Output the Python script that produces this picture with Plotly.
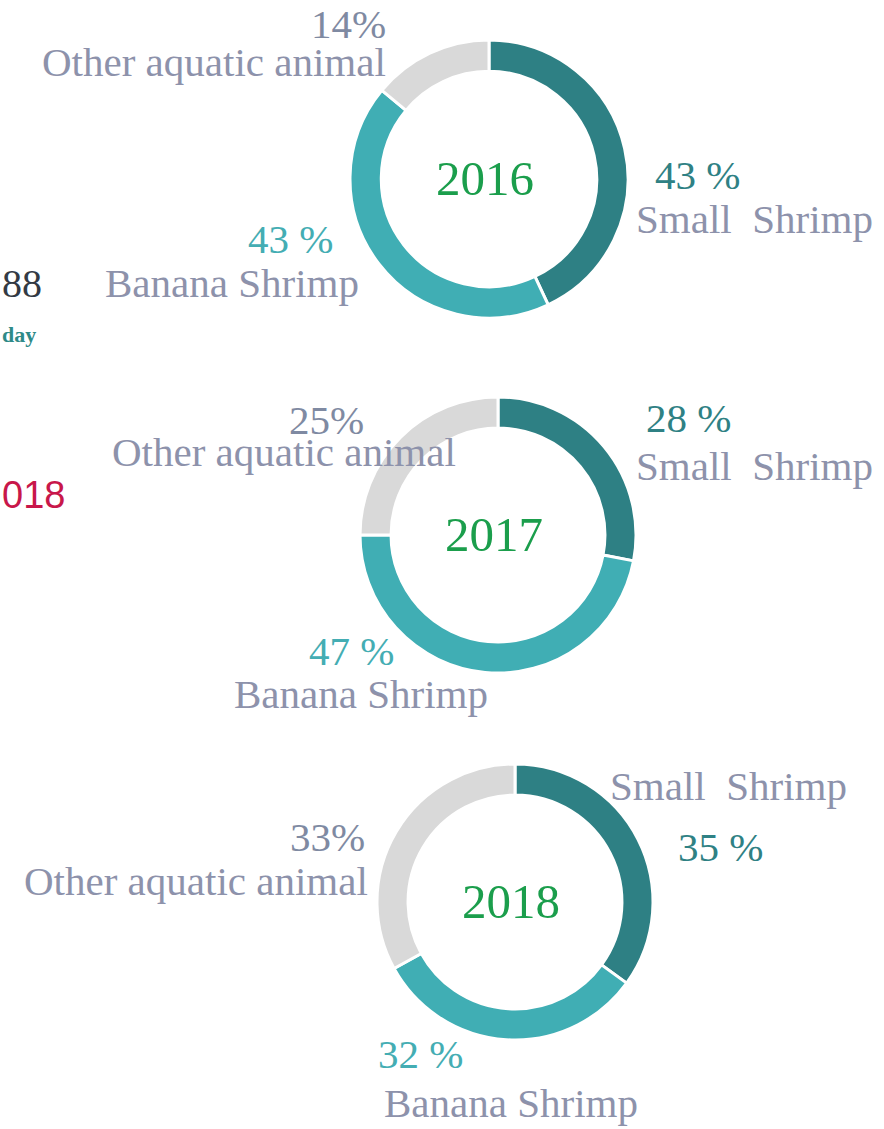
import plotly.graph_objects as go

# ---- data ----
years = ["2016", "2017", "2018"]
categories = ["Small  Shrimp", "Banana Shrimp", "Other aquatic animal"]
small_shrimp = [43, 28, 35]
banana_shrimp = [43, 47, 32]
other_animal = [14, 25, 33]

# ---- style ----
W, H = 884, 1129
ring_colors = ["#2e8084", "#40aeb4", "#d9d9d9"]
pct_colors = ["#2f8184", "#44adb3", "#7f8aa2"]
name_color = "#8d92ab"
year_color = "#1b9e4c"
serif = "Liberation Serif, Times New Roman, Times, serif"

# donut centers / radii in pixels
centers = [(489, 179, 139), (498, 535, 138), (515, 902, 138)]

# label positions (pixels): per year -> per category (pct pos, name pos)
label_pos = [
    [((697, 175), (754, 219)), ((290, 239), (232, 283)), ((348, 24), (214, 62))],
    [((688, 418), (754, 466)), ((351, 651), (361, 694)), ((326, 420), (284, 452))],
    [((720, 847), (728, 786)), ((420, 1054), (511, 1103)), ((327, 837), (196, 881))],
]

def px(x):
    return x / W

def py(y):
    return 1 - y / H

fig = go.Figure()
annotations = []
for i, yr in enumerate(years):
    cx, cy, r = centers[i]
    vals = [small_shrimp[i], banana_shrimp[i], other_animal[i]]
    fig.add_trace(go.Pie(
        labels=categories,
        values=vals,
        hole=0.775,
        sort=False,
        direction="clockwise",
        rotation=0,
        textinfo="none",
        hoverinfo="label+percent",
        marker=dict(colors=ring_colors, line=dict(color="white", width=3)),
        domain=dict(x=[px(cx - r), px(cx + r)], y=[py(cy + r), py(cy - r)]),
        showlegend=False,
    ))
    annotations.append(dict(
        x=px(cx - 4), y=py(cy - 1), xref="paper", yref="paper",
        text=yr, showarrow=False, xanchor="center", yanchor="middle",
        font=dict(family=serif, size=49, color=year_color),
    ))
    for j, cat in enumerate(categories):
        (pxp, pyp), (nxp, nyp) = label_pos[i][j]
        pct_text = f"{vals[j]}%" if j == 2 else f"{vals[j]} %"
        annotations.append(dict(
            x=px(pxp), y=py(pyp), xref="paper", yref="paper",
            text=pct_text, showarrow=False, xanchor="center", yanchor="middle",
            font=dict(family=serif, size=41, color=pct_colors[j]),
        ))
        annotations.append(dict(
            x=px(nxp), y=py(nyp), xref="paper", yref="paper",
            text=cat, showarrow=False, xanchor="center", yanchor="middle",
            font=dict(family=serif, size=41, color=name_color),
        ))

# cropped fragments at the left edge
annotations += [
    dict(x=0, y=py(283), xref="paper", yref="paper", text="88", showarrow=False,
         xanchor="left", yanchor="middle", font=dict(family=serif, size=40, color="#333a44")),
    dict(x=0, y=py(334), xref="paper", yref="paper", text="<b>day</b>", showarrow=False,
         xanchor="left", yanchor="middle", font=dict(family=serif, size=22, color="#2e8a88")),
    dict(x=0, y=py(495), xref="paper", yref="paper", text="018", showarrow=False,
         xanchor="left", yanchor="middle", font=dict(family="Liberation Sans, Arial, sans-serif", size=38, color="#c8174a")),
]

fig.update_layout(
    width=W, height=H,
    margin=dict(l=0, r=0, t=0, b=0),
    paper_bgcolor="white", plot_bgcolor="white",
    annotations=annotations,
)

fig.write_html(
    "out.html",
    config={"displayModeBar": False},
    post_script="document.body.style.margin='0';document.body.style.overflow='hidden';"
                "document.documentElement.style.overflow='hidden';",
)
